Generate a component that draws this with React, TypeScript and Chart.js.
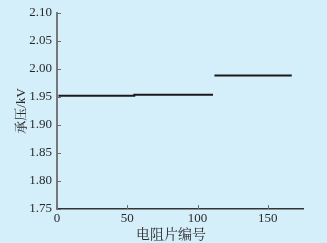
import React, { useEffect, useRef } from "react";
import { Chart, registerables } from "chart.js";

Chart.register(...registerables);

// Group A: resistor pieces 1–111
const groupAPieces = [1, 55, 55, 111];
const groupAVoltage = [1.952, 1.952, 1.954, 1.954];
// Group B: resistor pieces 112–167
const groupBPieces = [112, 167];
const groupBVoltage = [1.988, 1.988];

const xTicks = [0, 50, 100, 150];
const yTicks = [1.75, 1.8, 1.85, 1.9, 1.95, 2.0, 2.05, 2.1];
const xTitle = "电阻片编号";
const yTitle = "承压/kV";

const BG = "#d4eefa";
const SERIF = "'Liberation Serif', 'Noto Serif CJK SC', 'Noto Sans CJK SC', serif";

const inwardTicks = {
  id: "inwardTicks",
  afterDraw(chart: any) {
    const { ctx, chartArea, scales } = chart;
    ctx.save();
    ctx.strokeStyle = "#6e6e6e";
    ctx.lineWidth = 1;
    for (const v of yTicks) {
      const y = Math.round(scales.y.getPixelForValue(v)) + 0.5;
      ctx.beginPath();
      ctx.moveTo(chartArea.left, y);
      ctx.lineTo(chartArea.left + 4, y);
      ctx.stroke();
    }
    for (const v of xTicks) {
      const x = Math.round(scales.x.getPixelForValue(v)) + 0.5;
      ctx.beginPath();
      ctx.moveTo(x, chartArea.bottom);
      ctx.lineTo(x, chartArea.bottom - 4);
      ctx.stroke();
    }
    // x axis title, placed slightly left of the axis centre as in the source figure
    ctx.fillStyle = "#2a2a2a";
    ctx.font = `14px ${SERIF}`;
    ctx.textAlign = "center";
    ctx.textBaseline = "middle";
    ctx.fillText(xTitle, 171, 235);
    ctx.restore();
  },
};

export default function App() {
  const ref = useRef<HTMLCanvasElement | null>(null);
  useEffect(() => {
    document.body.style.margin = "0";
    const canvas = ref.current!;
    const chart = new Chart(canvas, {
      type: "line",
      data: {
        datasets: [
          {
            data: groupAPieces.map((x, i) => ({ x, y: groupAVoltage[i] })),
            borderColor: "#1a1a1a",
            borderWidth: 2,
            pointRadius: 0,
          },
          {
            data: groupBPieces.map((x, i) => ({ x, y: groupBVoltage[i] })),
            borderColor: "#1a1a1a",
            borderWidth: 2,
            pointRadius: 0,
          },
        ],
      },
      options: {
        animation: false,
        responsive: false,
        maintainAspectRatio: false,
        layout: { padding: { left: 0, right: 24, top: 11, bottom: 0 } },
        plugins: { legend: { display: false }, tooltip: { enabled: false } },
        scales: {
          x: {
            type: "linear",
            min: 0,
            max: 175,
            afterBuildTicks: (s: any) => {
              s.ticks = xTicks.map((v) => ({ value: v }));
            },
            afterFit: (s: any) => {
              s.height = 34;
            },
            grid: { display: false, drawTicks: false, tickLength: 0 },
            border: { display: true, color: "#333333", width: 1.5 },
            ticks: {
              color: "#2a2a2a",
              font: { family: SERIF, size: 13 },
              padding: 2,
              maxRotation: 0,
            },
            title: { display: false },
          },
          y: {
            type: "linear",
            min: 1.75,
            max: 2.1,
            afterBuildTicks: (s: any) => {
              s.ticks = yTicks.map((v) => ({ value: v }));
            },
            afterFit: (s: any) => {
              s.width = 57;
            },
            grid: { display: false, drawTicks: false, tickLength: 0 },
            border: { display: true, color: "#777777", width: 2 },
            ticks: {
              color: "#2a2a2a",
              font: { family: SERIF, size: 13 },
              padding: 5,
              callback: (v: any) => Number(v).toFixed(2),
            },
            title: {
              display: true,
              text: yTitle,
              color: "#2a2a2a",
              font: { family: SERIF, size: 13 },
              padding: { top: 14, bottom: 0 },
            },
          },
        },
      },
      plugins: [inwardTicks],
    } as any);
    return () => chart.destroy();
  }, []);
  return (
    <div style={{ position: "fixed", left: 0, top: 0, width: 327, height: 243, background: BG }}>
      <canvas ref={ref} width={327} height={243} style={{ display: "block" }} />
    </div>
  );
}
